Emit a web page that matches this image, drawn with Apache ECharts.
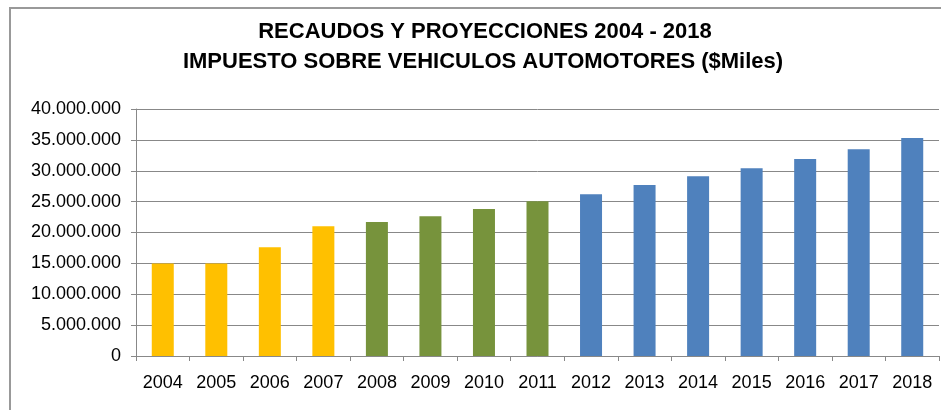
<!DOCTYPE html>
<html>
<head>
<meta charset="utf-8">
<script src="https://cdn.jsdelivr.net/npm/echarts@6/dist/echarts.min.js"></script>
<style>
  html, body { margin: 0; padding: 0; background: #fff; }
  #chart { width: 941px; height: 410px; }
</style>
</head>
<body>
<div id="chart"></div>
<script>
const years = ['2004', '2005', '2006', '2007', '2008', '2009', '2010', '2011',
  '2012', '2013', '2014', '2015', '2016', '2017', '2018']
const recaudos = [15000000, 15000000, 17600000, 21000000, 21700000, 22650000, 23800000, 25050000,
  26200000, 27700000, 29100000, 30400000, 31900000, 33500000, 35300000]
// 0 = yellow years, 1 = green years, 2 = projected (blue)
const groups = [0, 0, 0, 0, 1, 1, 1, 1, 2, 2, 2, 2, 2, 2, 2]
const groupColors = ['#FFC000', '#77933C', '#4F81BD']
const titleLines = ['RECAUDOS Y PROYECCIONES 2004 - 2018', 'IMPUESTO SOBRE VEHICULOS AUTOMOTORES ($Miles)']

const fmt = (v) => String(v).replace(/\B(?=(\d{3})+(?!\d))/g, '.')
const font = 'Liberation Sans, Arial, sans-serif'

const chart = echarts.init(document.getElementById('chart'), null, { renderer: 'canvas' })

chart.setOption({
  backgroundColor: '#fff',
  animation: false,
  graphic: [
    {
      type: 'rect',
      shape: { x: 10, y: 8, width: 960, height: 420 },
      style: { fill: 'none', stroke: '#999', lineWidth: 2 }
    },
    {
      type: 'text', x: 485, y: 32,
      style: { text: titleLines[0], font: 'bold 22px ' + font, fill: '#000', align: 'center', verticalAlign: 'middle' }
    },
    {
      type: 'text', x: 483, y: 62,
      style: { text: titleLines[1], font: 'bold 22px ' + font, fill: '#000', align: 'center', verticalAlign: 'middle' }
    }
  ],
  grid: { left: 136, right: 2, top: 109, bottom: 54 },
  xAxis: {
    type: 'category',
    data: years,
    axisLine: { lineStyle: { color: '#888', width: 1 } },
    axisTick: { show: true, length: 5, lineStyle: { color: '#888' } },
    axisLabel: { color: '#000', fontSize: 18, fontFamily: font, margin: 18 }
  },
  yAxis: {
    type: 'value',
    min: 0,
    max: 40000000,
    interval: 5000000,
    axisLine: { show: true, lineStyle: { color: '#888', width: 1 } },
    axisTick: { show: true, length: 5, lineStyle: { color: '#888' } },
    splitLine: { lineStyle: { color: '#888', width: 1 } },
    axisLabel: { color: '#000', fontSize: 18, fontFamily: font, margin: 15, formatter: fmt }
  },
  series: [{
    type: 'bar',
    barWidth: 22,
    data: recaudos.map((v, i) => ({ value: v, itemStyle: { color: groupColors[groups[i]] } }))
  }]
})
</script>
</body>
</html>
